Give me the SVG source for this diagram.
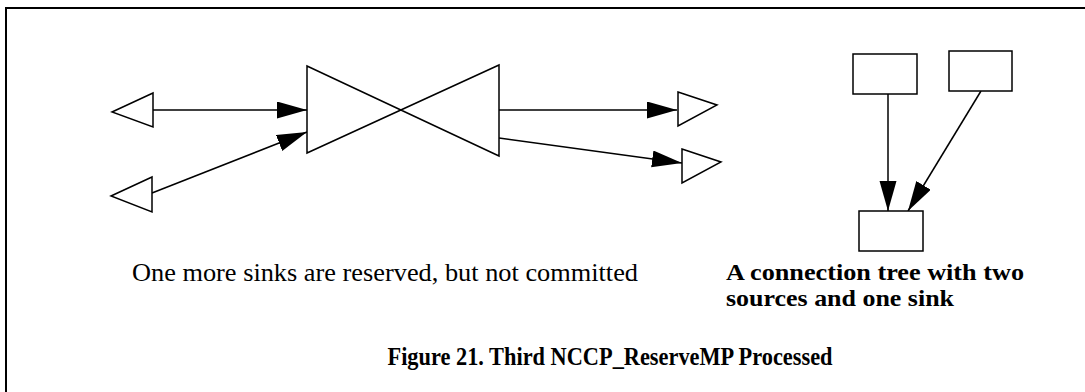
<svg xmlns="http://www.w3.org/2000/svg" width="1085" height="392" viewBox="0 0 1085 392">
  <style>
    .shape { fill: #fff; stroke: #000; stroke-width: 1.5; stroke-linejoin: miter; }
    .edge { fill: none; stroke: #000; stroke-width: 1.5; marker-end: url(#head); }
    text { font-family: 'Liberation Serif', 'DejaVu Serif', serif; fill: #000; }
    .b { font-weight: bold; }
  </style>
  <defs>
    <marker id="head" markerUnits="userSpaceOnUse" markerWidth="31" markerHeight="18" refX="30" refY="8.5" orient="auto">
      <path d="M0,0 L30,8.5 L0,17 z" fill="#000"/>
    </marker>
  </defs>
  <rect width="1085" height="392" fill="#fff"/>
  <!-- outer frame, right and bottom edges run past the page -->
  <rect x="6" y="8" width="1100" height="400" fill="none" stroke="#000" stroke-width="2"/>

  <g id="connectors">
    <line class="edge" x1="153" y1="110" x2="307" y2="110"/>
    <line class="edge" x1="152" y1="193" x2="307" y2="132"/>
    <line class="edge" x1="499" y1="110" x2="677" y2="110"/>
    <line class="edge" x1="499" y1="138" x2="682" y2="163"/>
    <line class="edge" x1="888" y1="94" x2="888" y2="211"/>
    <line class="edge" x1="981" y1="91" x2="908" y2="211"/>
  </g>

  <g id="source-a"><polygon class="shape" points="112,112 153,93 153,127"/></g>
  <g id="source-b"><polygon class="shape" points="111,196 152,177 152,212"/></g>
  <g id="switch"><polygon class="shape" points="307,66 307,153 499,65 499,156"/></g>
  <g id="sink-a"><polygon class="shape" points="678,92 717,105 678,126"/></g>
  <g id="sink-b"><polygon class="shape" points="682,149 721,162 682,183"/></g>

  <g id="tree-source-1"><rect class="shape" x="853" y="54" width="64" height="40"/></g>
  <g id="tree-source-2"><rect class="shape" x="949" y="51" width="63" height="40"/></g>
  <g id="tree-sink"><rect class="shape" x="859" y="211" width="64" height="40"/></g>

  <text x="132" y="281" font-size="26" textLength="506" lengthAdjust="spacingAndGlyphs">One more sinks are reserved, but not committed</text>
  <text class="b" x="726" y="280" font-size="24" textLength="298" lengthAdjust="spacingAndGlyphs">A connection tree with two</text>
  <text class="b" x="726" y="306" font-size="24" textLength="228" lengthAdjust="spacingAndGlyphs">sources and one sink</text>
  <text class="b" x="610" y="365" font-size="25" text-anchor="middle" textLength="445" lengthAdjust="spacingAndGlyphs">Figure 21. Third NCCP_ReserveMP Processed</text>
</svg>
